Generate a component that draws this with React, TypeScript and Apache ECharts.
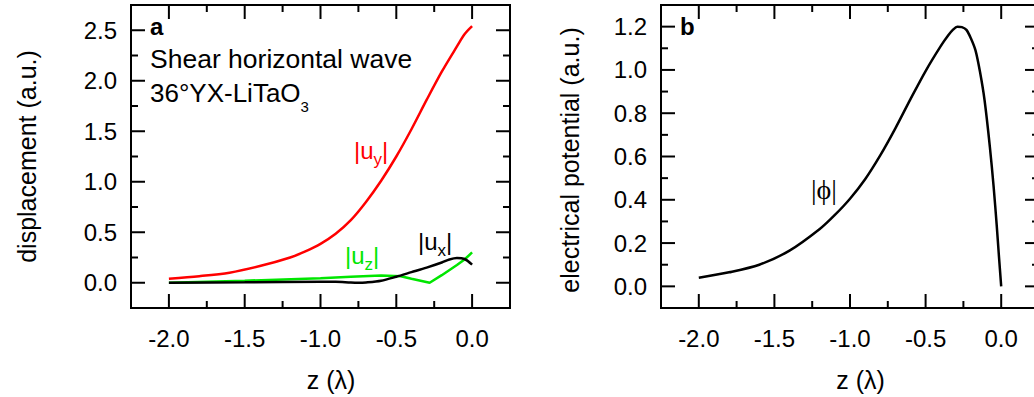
import React, { useEffect, useRef } from "react";
import * as echarts from "echarts";

// ---------- data ----------
// panel a: displacement components vs depth z (in wavelengths)
const UY_Z = [-2.0, -1.8, -1.6, -1.4, -1.2, -1.1, -1.0, -0.9, -0.8, -0.7, -0.6, -0.5, -0.4, -0.3, -0.2, -0.1, -0.05, 0];
const UY = [0.04, 0.065, 0.1, 0.165, 0.25, 0.31, 0.385, 0.485, 0.62, 0.8, 1.01, 1.25, 1.52, 1.81, 2.09, 2.34, 2.46, 2.54];

const UX_Z = [-2.0, -1.5, -1.0, -0.9, -0.8, -0.75, -0.7, -0.6, -0.5, -0.4, -0.3, -0.2, -0.15, -0.1, -0.05, 0];
const UX = [0.0, 0.005, 0.01, 0.01, 0.002, 0.0, 0.003, 0.02, 0.06, 0.105, 0.15, 0.2, 0.23, 0.245, 0.235, 0.18];

const UZ_Z = [-2.0, -1.5, -1.0, -0.8, -0.6, -0.47, -0.4, -0.28, -0.2, -0.1, -0.05, 0];
const UZ = [0.0, 0.02, 0.045, 0.06, 0.072, 0.065, 0.04, 0.0, 0.075, 0.175, 0.23, 0.3];

// panel b: electrical potential vs depth
const PHI_Z = [-2.0, -1.8, -1.6, -1.4, -1.2, -1.1, -1.0, -0.9, -0.8, -0.7, -0.6, -0.5, -0.4, -0.35, -0.32, -0.29, -0.26, -0.23, -0.2, -0.17, -0.14, -0.11, -0.075, -0.05, -0.03, -0.015, 0];
const PHI = [0.04, 0.065, 0.1, 0.165, 0.265, 0.33, 0.405, 0.495, 0.605, 0.73, 0.865, 0.995, 1.11, 1.16, 1.185, 1.2, 1.198, 1.185, 1.145, 1.09, 0.99, 0.86, 0.645, 0.46, 0.285, 0.14, 0.0];

// axis ticks
const X_MAJOR = [-2.0, -1.5, -1.0, -0.5, 0.0];
const X_MINOR = [-1.75, -1.25, -0.75, -0.25];
const YA_MAJOR = [0.0, 0.5, 1.0, 1.5, 2.0, 2.5];
const YA_MINOR = [0.25, 0.75, 1.25, 1.75, 2.25];
const YB_MAJOR = [0.0, 0.2, 0.4, 0.6, 0.8, 1.0, 1.2];
const YB_MINOR = [0.1, 0.3, 0.5, 0.7, 0.9, 1.1];

const SANS = "'Liberation Sans', Arial, Helvetica, sans-serif";
const SERIF = "'Liberation Serif', 'Times New Roman', serif";

const zip = (xs: number[], ys: number[]) => xs.map((x, i) => [x, ys[i]]);
const isIn = (v: number, arr: number[]) => arr.some((a) => Math.abs(a - v) < 1e-6);

// tick items: [value, dim (0 = x, 1 = y), major (1) / minor (0)]
const tickItems = (xMaj: number[], xMin: number[], yMaj: number[], yMin: number[]) => [
  ...xMaj.map((v) => [v, 0, 1]),
  ...xMin.map((v) => [v, 0, 0]),
  ...yMaj.map((v) => [v, 1, 1]),
  ...yMin.map((v) => [v, 1, 0]),
];

function xAxisFor(grid: number) {
  return {
    type: "value",
    gridIndex: grid,
    position: "bottom",
    min: -2.25,
    max: 0.25,
    interval: 0.25,
    splitLine: { show: false },
    axisLine: { show: false, onZero: false },
    axisTick: { show: false },
    axisLabel: {
      formatter: (v: number) => (isIn(v, X_MAJOR) ? v.toFixed(1) : ""),
      color: "#000",
      fontSize: 24,
      fontFamily: SANS,
      margin: 18,
    },
    name: "z (λ)",
    nameLocation: "middle",
    nameGap: 59,
    nameTextStyle: { color: "#000", fontSize: 25, fontFamily: SANS, padding: [0, 0, 0, 21] },
  };
}

function yAxisFor(grid: number, min: number, max: number, interval: number, major: number[], name: string, gap: number, pad: number[]) {
  return {
    type: "value",
    gridIndex: grid,
    position: "left",
    min,
    max,
    interval,
    splitLine: { show: false },
    axisLine: { show: false, onZero: false },
    axisTick: { show: false },
    axisLabel: {
      formatter: (v: number) => (isIn(v, major) ? v.toFixed(1) : ""),
      color: "#000",
      fontSize: 24,
      fontFamily: SANS,
      margin: 14,
    },
    name,
    nameLocation: "middle",
    nameGap: gap,
    nameTextStyle: { color: "#000", fontSize: 25, fontFamily: SANS, padding: pad },
  };
}

function tickSeries(axisIndex: number, data: number[][]) {
  return {
    type: "custom",
    xAxisIndex: axisIndex,
    yAxisIndex: axisIndex,
    silent: true,
    clip: false,
    z: 5,
    data,
    renderItem: (params: any, api: any) => {
      const cs = params.coordSys;
      const v = api.value(0);
      const dim = api.value(1);
      const len = api.value(2) ? 14 : 7;
      const style = { stroke: "#000", lineWidth: 2 };
      if (dim === 0) {
        const px = api.coord([v, 0])[0];
        return {
          type: "group",
          children: [
            { type: "line", shape: { x1: px, y1: cs.y + cs.height, x2: px, y2: cs.y + cs.height - len }, style },
            { type: "line", shape: { x1: px, y1: cs.y, x2: px, y2: cs.y + len }, style },
          ],
        };
      }
      const py = api.coord([-1, v])[1];
      return {
        type: "group",
        children: [
          { type: "line", shape: { x1: cs.x, y1: py, x2: cs.x + len, y2: py }, style },
          { type: "line", shape: { x1: cs.x + cs.width, y1: py, x2: cs.x + cs.width - len, y2: py }, style },
        ],
      };
    },
  };
}

function richLabel(x: number, y: number, main: string, sub: string, tail: string, color: string, mainSize: number, subSize: number, subOffset: number) {
  return {
    type: "text",
    x,
    y,
    silent: true,
    style: {
      text: `{m|${main}}{s|${sub}}` + (tail ? `{m|${tail}}` : ""),
      align: "left",
      verticalAlign: "middle",
      fill: color,
      rich: {
        m: { fontSize: mainSize, fontFamily: SANS, fill: color, verticalAlign: "middle" },
        s: {
          fontSize: subSize,
          fontFamily: SANS,
          fill: color,
          lineHeight: subSize,
          padding: [subOffset * 2, 0, 0, 0],
          verticalAlign: "middle",
        },
      },
    },
  };
}

export default function App() {
  const ref = useRef<HTMLDivElement>(null);
  useEffect(() => {
    if (!ref.current) return;
    const chart = echarts.init(ref.current, null, { renderer: "svg" });
    const lineSeries = (name: string, data: number[][], color: string, ai: number, smooth: number | boolean) => ({
      type: "line",
      name,
      xAxisIndex: ai,
      yAxisIndex: ai,
      data,
      showSymbol: false,
      symbol: "none",
      smooth,
      silent: true,
      lineStyle: { color, width: 2.5 },
    });
    const gridBase = { show: true, borderColor: "#000", borderWidth: 2, backgroundColor: "transparent", containLabel: false, outerBoundsMode: "none" };
    chart.setOption({
      animation: false,
      backgroundColor: "#fff",
      grid: [
        { ...gridBase, left: 131, top: 5, width: 379, height: 303 },
        { ...gridBase, left: 661, top: 5, width: 378, height: 303 },
      ],
      xAxis: [xAxisFor(0), xAxisFor(1)],
      yAxis: [
        yAxisFor(0, -0.25, 2.75, 0.25, YA_MAJOR, "displacement (a.u.)", 92, [0, 0, 0, 0]),
        yAxisFor(1, -0.1, 1.3, 0.1, YB_MAJOR, "electrical potential (a.u.)", 79, [0, 7, 0, 0]),
      ],
      series: [
        tickSeries(0, tickItems(X_MAJOR, X_MINOR, YA_MAJOR, YA_MINOR)),
        tickSeries(1, tickItems(X_MAJOR, X_MINOR, YB_MAJOR, YB_MINOR)),
        lineSeries("|u_y|", zip(UY_Z, UY), "#ff0000", 0, 0.3),
        lineSeries("|u_z|", zip(UZ_Z, UZ), "#00e600", 0, false),
        lineSeries("|u_x|", zip(UX_Z, UX), "#000000", 0, 0.3),
        lineSeries("|ϕ|", zip(PHI_Z, PHI), "#000000", 1, 0.3),
      ],
      graphic: [
        { type: "text", x: 150, y: 26, silent: true, style: { text: "a", fontSize: 24, fontWeight: "bold", fontFamily: SANS, fill: "#000", align: "left", verticalAlign: "middle" } },
        { type: "text", x: 150, y: 59, silent: true, style: { text: "Shear horizontal wave", fontSize: 26.5, fontFamily: SANS, fill: "#000", align: "left", verticalAlign: "middle" } },
        richLabel(150, 92.6, "36°YX-LiTaO", "3", "", "#000", 26, 15, 14),
        richLabel(354, 150, "|u", "y", "|", "#ff0000", 24, 17, 9),
        richLabel(345, 255, "|u", "z", "|", "#00e600", 24, 17, 9),
        richLabel(418, 241.6, "|u", "x", "|", "#000", 24, 17, 9),
        { type: "text", x: 680, y: 26, silent: true, style: { text: "b", fontSize: 24, fontWeight: "bold", fontFamily: SANS, fill: "#000", align: "left", verticalAlign: "middle" } },
        { type: "text", x: 811, y: 189, silent: true, style: { text: "|ϕ|", fontSize: 28, fontFamily: SERIF, fill: "#000", align: "left", verticalAlign: "middle" } },
      ],
    });
    return () => chart.dispose();
  }, []);
  return <div ref={ref} style={{ position: "absolute", left: 0, top: 0, width: 1034, height: 397 }} />;
}
